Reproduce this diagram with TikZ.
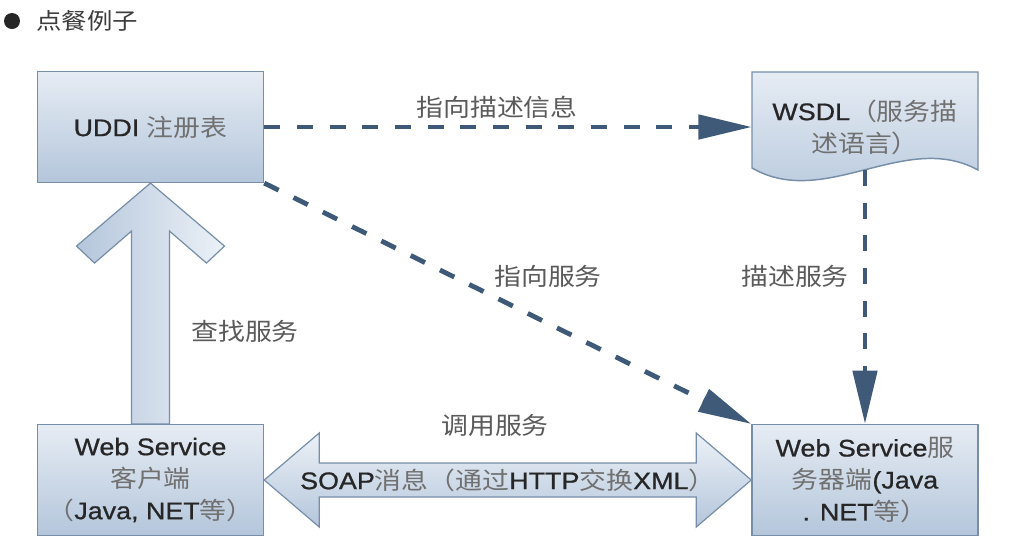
\documentclass[tikz,border=0pt]{standalone}
\usepackage{fontspec}
\setmainfont{Liberation Sans}[FakeStretch=1.12,FakeBold=0.8]
\newfontfamily\cjk{Noto Sans CJK SC}[FakeStretch=1.12]
\usepackage{xcolor}
\usepackage{tikz}
\usetikzlibrary{arrows.meta,calc,positioning}
\definecolor{boxtop}{RGB}{230,236,244}
\definecolor{boxbot}{RGB}{180,198,219}
\definecolor{boxedge}{RGB}{118,142,168}
\definecolor{arrowlight}{RGB}{236,241,247}
\definecolor{dashblue}{RGB}{62,90,120}
\definecolor{latin}{RGB}{38,38,38}
\definecolor{zhgray}{RGB}{112,112,112}
\definecolor{lblgray}{RGB}{90,90,90}
\definecolor{titlegray}{RGB}{60,60,60}
\newcommand{\zh}[1]{{\cjk\color{zhgray}#1}}

\begin{document}
\begin{tikzpicture}[x=0.75pt,y=-0.75pt,
  boxtxt/.style={minimum width=169.5pt,minimum height=83pt,inner sep=0pt,align=center,
    text=latin,font=\fontsize{18}{24}\selectfont},
  box/.style={boxtxt,draw=boxedge,line width=1.1pt,top color=boxtop,bottom color=boxbot},
  fatarrow/.style={draw=boxedge,line width=0.9pt,line join=miter},
  dasharrow/.style={draw=dashblue,line width=3.6pt,dash pattern=on 12pt off 12.5pt,
    -{Triangle[length=40pt,width=18pt]}},
  lbl/.style={inner sep=0pt,text=lblgray,font=\cjk\fontsize{18}{22}\selectfont}]
\fill[white] (0,0) rectangle (1026,558);
\useasboundingbox (0,0) rectangle (1026,558);

% title
\node[circle,fill=black!85,minimum size=12pt,inner sep=0pt] (bullet) at (12,21) {};
\node[anchor=west,inner sep=0pt,text=titlegray,font=\cjk\fontsize{17}{20}\selectfont] (title) at (36,21) {点餐例子};

% boxes
\node[box] (UDDI) at (150.5,127) {UDDI \zh{注册表}};
\node[box] (client) at (150.5,480) {Web Service\\\zh{客户端}\\\zh{（}Java, NET\zh{等）}};
\node[box] (server) at (865,480) {Web Service\zh{服}\\\zh{务器端}(Java\\. NET\zh{等）}};

% WSDL document shape
\draw[fatarrow,line width=1.1pt,top color=boxtop,bottom color=boxbot] (752,72) -- (978,72) -- (978,170)
  .. controls (905,130) and (825,210) .. (752,168) -- cycle;
\node[boxtxt] (WSDL) at (865,127) {WSDL\zh{（服务描}\\\zh{述语言）}};
\coordinate (WSDL-foot) at (865,170);

% fat arrows
\draw[fatarrow,left color=boxbot,right color=arrowlight] ($(client.north)+(-19,0)$) -- ($(UDDI.south)+(-19,48)$)
  -- ($(UDDI.south)+(-56,80)$) -- ($(UDDI.south)+(-74,63)$) -- (UDDI.south) -- ($(UDDI.south)+(74,63)$)
  -- ($(UDDI.south)+(56,80)$) -- ($(UDDI.south)+(19,48)$) -- ($(client.north)+(19,0)$) -- cycle;
\draw[fatarrow,top color=arrowlight,bottom color=boxbot] (client.east) -- ($(client.east)+(55,-47)$)
  -- ($(client.east)+(55,-17)$) -- ($(server.west)+(-55,-17)$) -- ($(server.west)+(-55,-47)$) -- (server.west)
  -- ($(server.west)+(-55,47)$) -- ($(server.west)+(-55,17)$) -- ($(client.east)+(55,17)$)
  -- ($(client.east)+(55,47)$) -- cycle;
\node[inner sep=0pt,text=latin,font=\fontsize{18}{22}\selectfont] (soap) at ($(client.east)!0.5!(server.west)$)
  {SOAP\zh{消息（通过}HTTP\zh{交换}XML\zh{）}};

% dashed arrows
\draw[dasharrow] (UDDI.east) -- (UDDI.east -| WSDL.west);
\draw[dasharrow] (UDDI.south east) -- (server.north west);
\draw[dasharrow] (WSDL-foot) -- (server.north);

% labels
\node[lbl] (pointdesc) at (497,107) {指向描述信息};
\node[lbl] (pointsvc) at (548,276) {指向服务};
\node[lbl] (descsvc) at (795,276) {描述服务};
\node[lbl] (findsvc) at (245,331) {查找服务};
\node[lbl] (callsvc) at (495,425) {调用服务};
\end{tikzpicture}
\end{document}
